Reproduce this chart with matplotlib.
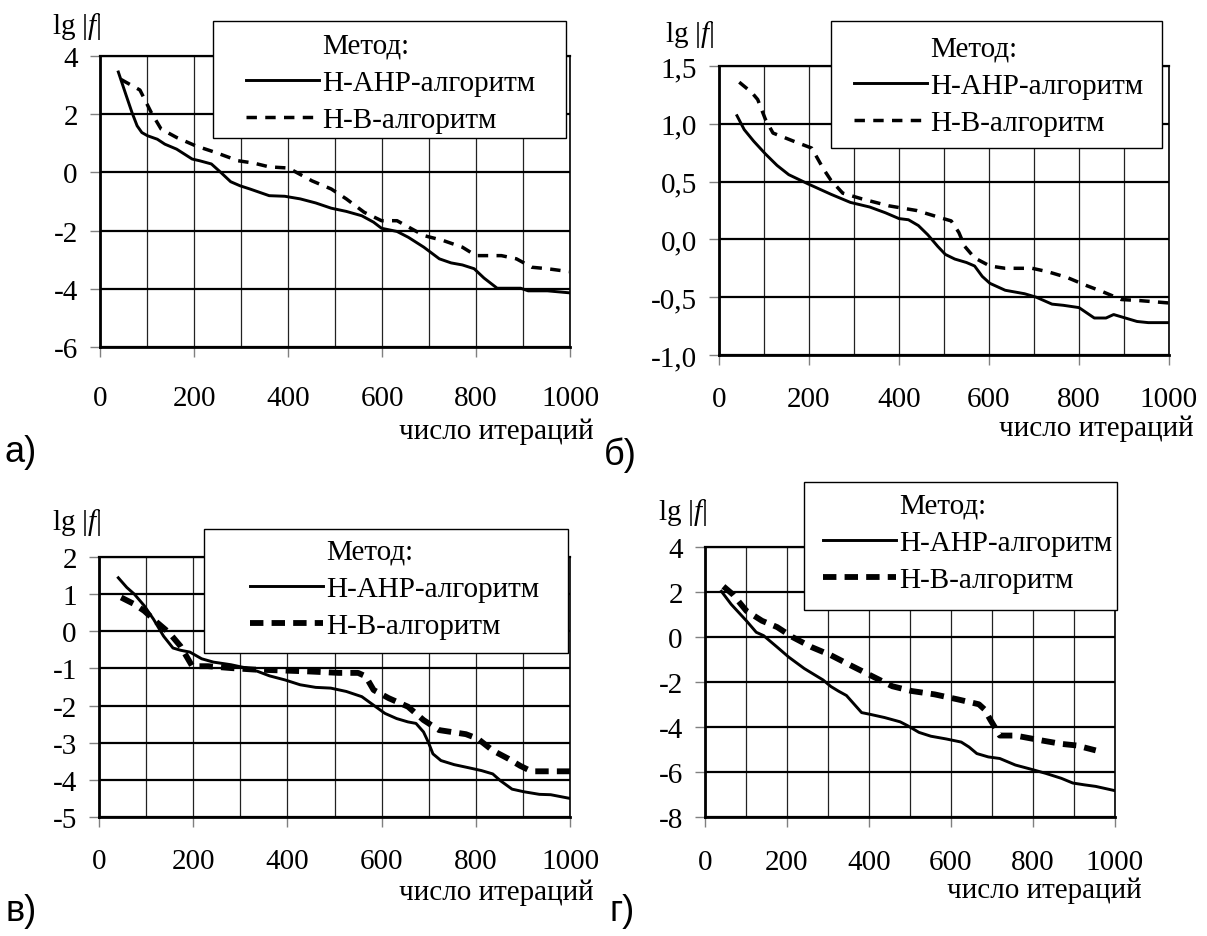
import matplotlib
matplotlib.use('Agg')
import matplotlib.pyplot as plt
from matplotlib.lines import Line2D
from matplotlib.patches import Rectangle
from matplotlib.ticker import MultipleLocator, FuncFormatter

plt.rcParams['font.family'] = ['Liberation Serif', 'DejaVu Serif']
plt.rcParams['axes.unicode_minus'] = False
plt.rcParams['mathtext.fontset'] = 'custom'
plt.rcParams['mathtext.rm'] = 'Liberation Serif'
plt.rcParams['mathtext.it'] = 'Liberation Serif:italic'

# ---- data ----
# panel а
a_x_ahp = [39, 56, 68, 79, 89, 101, 122, 138, 163, 196, 212, 237, 257, 278, 298, 319, 360, 393, 426, 459,
           492, 524, 557, 582, 599, 632, 656, 689, 722, 747, 771, 796, 817, 845, 895, 911, 952, 1000]
a_y_ahp = [3.45, 2.63, 2.06, 1.6, 1.37, 1.26, 1.14, 0.97, 0.8, 0.46, 0.4, 0.29, 0.0, -0.32, -0.46, -0.57,
           -0.8, -0.82, -0.91, -1.05, -1.23, -1.34, -1.49, -1.71, -1.92, -2.03, -2.23, -2.57, -2.97, -3.11,
           -3.18, -3.31, -3.63, -3.98, -3.98, -4.07, -4.07, -4.14]
a_x_b = [44, 85, 109, 130, 163, 204, 245, 294, 327, 360, 401, 418, 451, 492, 524, 562, 599, 632, 689, 730,
         771, 800, 854, 886, 919, 952, 998]
a_y_b = [3.2, 2.83, 2.06, 1.49, 1.2, 0.91, 0.69, 0.4, 0.32, 0.19, 0.15, 0.0, -0.29, -0.57, -0.91, -1.37,
         -1.66, -1.66, -2.17, -2.34, -2.57, -2.86, -2.86, -2.97, -3.26, -3.31, -3.41]

# panel б
b_x_ahp = [40, 56, 77, 103, 129, 155, 198, 249, 292, 335, 370, 400, 421, 443, 464, 486, 503, 524, 550, 568,
           585, 602, 636, 679, 705, 740, 765, 800, 834, 860, 877, 903, 929, 954, 1000]
b_y_ahp = [1.07, 0.95, 0.85, 0.74, 0.64, 0.56, 0.48, 0.39, 0.32, 0.28, 0.23, 0.18, 0.17, 0.12, 0.04, -0.06,
           -0.13, -0.17, -0.2, -0.23, -0.32, -0.38, -0.44, -0.47, -0.5, -0.56, -0.57, -0.59, -0.68, -0.68,
           -0.65, -0.68, -0.71, -0.72, -0.72]
b_x_b = [45, 73, 86, 103, 120, 172, 206, 232, 249, 275, 318, 378, 439, 490, 516, 533, 546, 568, 602, 636,
         696, 731, 774, 817, 851, 894, 937, 1000]
b_y_b = [1.36, 1.27, 1.21, 1.04, 0.92, 0.84, 0.79, 0.61, 0.51, 0.4, 0.35, 0.29, 0.25, 0.19, 0.16, 0.06,
         -0.06, -0.16, -0.23, -0.25, -0.25, -0.28, -0.33, -0.4, -0.45, -0.52, -0.53, -0.55]

# panel в
c_x_ahp = [41, 59, 75, 96, 116, 137, 157, 173, 193, 218, 243, 280, 313, 337, 362, 395, 427, 460, 492, 525,
           558, 583, 607, 632, 656, 673, 689, 699, 709, 726, 754, 787, 812, 836, 852, 877, 902, 935, 959, 1000]
c_y_ahp = [1.44, 1.18, 1.0, 0.69, 0.32, -0.13, -0.45, -0.51, -0.56, -0.74, -0.83, -0.9, -0.99, -1.08, -1.2,
           -1.31, -1.44, -1.51, -1.53, -1.62, -1.76, -1.99, -2.21, -2.35, -2.44, -2.48, -2.71, -2.98, -3.3,
           -3.48, -3.59, -3.68, -3.75, -3.84, -4.02, -4.25, -4.32, -4.39, -4.4, -4.5]
c_x_b = [47, 75, 96, 124, 149, 173, 198, 231, 280, 329, 378, 444, 509, 550, 566, 583, 615, 656, 689, 722,
         779, 804, 836, 869, 894, 918, 1000]
c_y_b = [0.91, 0.73, 0.55, 0.23, -0.04, -0.4, -0.94, -0.94, -0.99, -1.03, -1.05, -1.08, -1.12, -1.12, -1.21,
         -1.58, -1.8, -2.03, -2.39, -2.66, -2.77, -2.89, -3.21, -3.43, -3.62, -3.77, -3.77]

# panel г
d_x_ahp = [40, 64, 101, 125, 143, 176, 204, 242, 288, 307, 326, 345, 382, 401, 438, 476, 494, 522, 551, 588,
           625, 644, 663, 691, 719, 757, 794, 831, 869, 897, 925, 953, 1000]
d_y_ahp = [2.03, 1.45, 0.72, 0.21, 0.06, -0.45, -0.89, -1.4, -1.91, -2.2, -2.41, -2.6, -3.36, -3.43, -3.58,
           -3.77, -3.94, -4.24, -4.41, -4.53, -4.67, -4.89, -5.18, -5.33, -5.4, -5.69, -5.87, -6.06, -6.28,
           -6.49, -6.57, -6.64, -6.83]
d_x_b = [45, 68, 101, 139, 176, 213, 260, 307, 354, 401, 457, 504, 560, 616, 668, 682, 695, 719, 757, 822,
         869, 906, 953]
d_y_b = [2.25, 1.89, 1.16, 0.72, 0.44, 0.0, -0.45, -0.81, -1.25, -1.68, -2.19, -2.4, -2.55, -2.77, -2.99,
         -3.22, -3.65, -4.38, -4.38, -4.6, -4.75, -4.82, -5.04]

series_names = ['Н-АНР-алгоритм', 'Н-В-алгоритм']
legend_title = 'Метод:'
ylabel = r'$\mathrm{lg}\ |f|$'
xlabel = 'число итераций'
panel_tags = ['а)', 'б)', 'в)', 'г)']

W, H = 1207, 937
FS = 21
fig = plt.figure(figsize=(W / 100, H / 100), dpi=100)
fig.patch.set_facecolor('white')


def box(l, t, r, b):
    return [l / W, 1 - b / H, (r - l) / W, (b - t) / H]


def comma(v, pos):
    return f'{v:.1f}'.replace('.', ',')


def panel(rect, x1, y1, x2, y2, ylo, yhi, ystep, dash_lw, dashes, xpad,
          leg_box, leg_xy, lab_xy, xl_xy, tag_xy, tag, fmt=None):
    ax = fig.add_axes(box(*rect))
    ax.plot(x1, y1, color='black', lw=2.1, solid_joinstyle='round', zorder=3)
    ax.plot(x2, y2, color='black', lw=dash_lw, dashes=dashes, dash_capstyle='butt', zorder=3)
    ax.set_xlim(0, 1000)
    ax.set_ylim(ylo, yhi)
    ax.xaxis.set_major_locator(MultipleLocator(200))
    ax.xaxis.set_minor_locator(MultipleLocator(100))
    ax.yaxis.set_major_locator(MultipleLocator(ystep))
    if fmt is not None:
        ax.yaxis.set_major_formatter(FuncFormatter(fmt))
    ax.grid(True, axis='y', which='major', color='black', lw=1.6, zorder=1)
    ax.grid(True, axis='x', which='both', color='#222222', lw=0.9, zorder=1)
    ax.set_axisbelow(True)
    for s in ['left', 'bottom']:
        ax.spines[s].set_linewidth(2.0)
    ax.spines['top'].set_linewidth(1.6)
    ax.spines['right'].set_linewidth(1.2)
    ax.tick_params(axis='both', which='major', length=7, width=1, color='#808080',
                   labelsize=FS, direction='out')
    ax.tick_params(axis='y', pad=9)
    ax.tick_params(axis='x', pad=xpad)
    ax.tick_params(which='minor', length=0)

    # legend frame, drawn over the plot
    l, t, r, b = leg_box
    fig.patches.append(Rectangle((l / W, 1 - b / H), (r - l) / W, (b - t) / H, transform=fig.transFigure,
                                 facecolor='white', edgecolor='black', lw=1.0, zorder=4))
    handles = [Line2D([], [], color='none'),
               Line2D([], [], color='black', lw=2.1),
               Line2D([], [], color='black', lw=dash_lw, dashes=dashes, dash_capstyle='butt')]
    labels = [legend_title] + series_names
    leg = fig.legend(handles, labels, loc='upper left',
                     bbox_to_anchor=(leg_xy[0] / W, 1 - leg_xy[1] / H), bbox_transform=fig.transFigure,
                     frameon=False, fontsize=FS, handlelength=2.5, handletextpad=0.1,
                     borderpad=0, labelspacing=0.38, borderaxespad=0)
    leg.set_zorder(5)

    fig.text(lab_xy[0] / W, 1 - lab_xy[1] / H, ylabel, fontsize=FS, ha='center', va='center')
    fig.text(xl_xy[0] / W, 1 - xl_xy[1] / H, xlabel, fontsize=FS, ha='right', va='center')
    fig.text(tag_xy[0] / W, 1 - tag_xy[1] / H, tag, fontsize=26, ha='left', va='center',
             family=['Liberation Sans', 'DejaVu Sans'])
    return ax


panel((100, 57, 570, 348), a_x_ahp, a_y_ahp, a_x_b, a_y_b, -6, 4, 2, 2.5, (3, 2.4), 20,
      (213, 22, 566, 139), (246, 33), (77, 27), (594, 432), (4, 453), panel_tags[0])
panel((719, 67, 1169, 356), b_x_ahp, b_y_ahp, b_x_b, b_y_b, -1.0, 1.5, 0.5, 2.5, (3, 2.4), 15,
      (831, 22, 1162, 149), (854, 36), (690, 35), (1194, 429), (604, 455), panel_tags[1], fmt=comma)
panel((99, 558, 570, 818), c_x_ahp, c_y_ahp, c_x_b, c_y_b, -5, 2, 1, 4.2, (2.3, 1.4), 15,
      (204, 530, 568, 654), (250, 539), (77, 523), (594, 893), (6, 912), panel_tags[2])
panel((705, 548, 1115, 818), d_x_ahp, d_y_ahp, d_x_b, d_y_b, -8, 4, 2, 4.2, (2.3, 1.4), 16,
      (804, 483, 1117, 611), (823, 493), (683, 513), (1142, 891), (610, 912), panel_tags[3])

fig.savefig('out.png', dpi=100, facecolor='white')
